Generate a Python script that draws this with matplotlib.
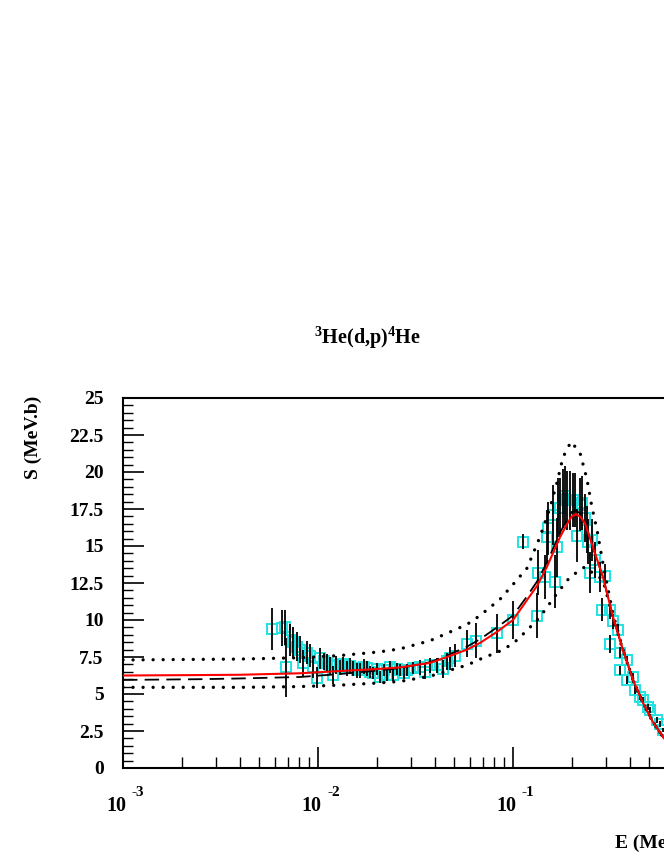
import matplotlib
matplotlib.use("Agg")
import matplotlib.pyplot as plt
import matplotlib.transforms as mtransforms
from matplotlib.ticker import MultipleLocator, FuncFormatter, LogLocator, NullFormatter
import numpy as np

plt.rcParams['font.family'] = ['Liberation Serif', 'DejaVu Serif']
plt.rcParams['font.weight'] = 'bold'
plt.rcParams['mathtext.fontset'] = 'custom'
plt.rcParams['mathtext.rm'] = 'Liberation Serif:bold'
plt.rcParams['mathtext.default'] = 'rm'

# measured S-factor points (E in MeV, S in MeV.b)
data_e = [5.81e-3, 6.54e-3, 6.77e-3, 6.85e-3, 7.18e-3, 7.44e-3, 7.80e-3, 8.09e-3,
          8.38e-3, 8.78e-3, 9.10e-3, 9.43e-3, 9.88e-3, 1.024e-2, 1.073e-2, 1.112e-2,
          1.152e-2, 1.194e-2, 1.237e-2, 1.297e-2, 1.344e-2, 1.408e-2, 1.459e-2, 1.512e-2,
          1.585e-2, 1.642e-2, 1.722e-2, 1.784e-2, 1.848e-2, 1.915e-2, 2.007e-2, 2.079e-2,
          2.180e-2, 2.259e-2, 2.340e-2, 2.424e-2, 2.541e-2, 2.634e-2, 2.761e-2, 2.860e-2,
          3.070e-2, 3.336e-2, 3.539e-2, 3.753e-2, 4.076e-2, 4.375e-2, 4.586e-2, 4.752e-2,
          5.041e-2, 5.809e-2, 6.460e-2, 8.279e-2, 0.1000, 0.1125, 0.1328, 0.1344,
          0.1460, 0.1494, 0.1512, 0.1604, 0.1642, 0.1682, 0.1702, 0.1742, 0.1805, 0.1848,
          0.1892, 0.1960, 0.2031, 0.2079, 0.2129, 0.2206, 0.2259, 0.2340, 0.2396, 0.2424,
          0.2482, 0.2541, 0.2634, 0.2794, 0.2860, 0.2963, 0.3144, 0.3144, 0.3257, 0.3455,
          0.3539, 0.3539, 0.3842, 0.3842, 0.4125, 0.4224, 0.4480, 0.4642, 0.4924, 0.5041,
          0.5476, 0.5675, 0.5878]
data_s = [9.4, 9.45, 9.5, 6.8, 8.65, 8.5, 8.2, 8.0,
          7.1, 7.8, 7.6, 6.8, 6.1, 7.4, 7.2, 7.1,
          6.9, 6.3, 6.95, 6.8, 7.0, 6.75, 6.9, 6.75,
          6.6, 6.6, 6.85, 6.75, 6.5, 6.4, 6.7, 6.15,
          6.6, 6.3, 6.8, 6.3, 6.7, 6.6, 6.4, 6.6,
          6.75, 6.8, 6.5, 6.95, 6.95, 6.7, 7.2, 7.4,
          7.6, 8.4, 8.6, 9.1, 10.0, 15.3, 10.3, 13.2,
          12.9, 15.6, 16.2, 17.1, 12.6, 14.9, 17.6, 17.6, 18.2, 18.4,
          18.1, 18.1, 18.1, 18.1, 15.7, 17.8, 17.9, 16.9, 16.1, 15.3,
          13.2, 15.4, 14.05, 12.9, 10.7, 13.0, 10.7, 8.4, 9.9, 9.3,
          7.8, 6.6, 7.3, 5.95, 6.15, 5.3, 4.8, 4.6, 4.1, 3.9,
          3.25, 3.0, 2.55]
data_err = [1.4, 1.2, 1.2, 2.0, 1.1, 1.0, 1.0, 0.9,
            0.9, 0.8, 0.8, 0.7, 0.7, 0.7, 0.6, 0.6,
            0.6, 0.6, 0.6, 0.5, 0.5, 0.5, 0.5, 0.5,
            0.5, 0.5, 0.5, 0.5, 0.4, 0.4, 0.4, 0.4,
            0.4, 0.4, 0.4, 0.4, 0.4, 0.4, 0.4, 0.4,
            0.4, 0.5, 0.5, 0.5, 0.5, 0.6, 0.6, 0.8,
            0.8, 0.9, 1.2, 1.3, 1.3, 0.5, 1.5, 1.5,
            1.5, 1.8, 1.8, 2.0, 1.8, 2.0, 2.0, 2.0, 2.0, 2.0,
            2.0, 2.0, 1.8, 1.8, 1.8, 1.8, 1.8, 1.6, 1.6, 1.5,
            1.4, 1.4, 1.2, 1.0, 0.8, 0.8, 0.6, 0.6, 0.5, 0.4,
            0.4, 0.3, 0.3, 0.3, 0.3, 0.3, 0.2, 0.2, 0.2, 0.2,
            0.2, 0.2, 0.15]

# fitted curve (red) and its alternative (dashed)
fit_e = [1e-3, 2.48e-3, 3.98e-3, 8.09e-3, 1.297e-2, 2.079e-2, 2.634e-2, 3.753e-2,
         4.586e-2, 5.809e-2, 6.77e-2, 8.28e-2, 0.100, 0.118, 0.1328, 0.1494,
         0.1742, 0.1915, 0.2002, 0.2104, 0.2206, 0.2340, 0.2572, 0.2894,
         0.3257, 0.3665, 0.4125, 0.4642, 0.5224, 0.5949, 0.70, 0.85, 1.0]
fit_s = [6.25, 6.28, 6.3, 6.4, 6.55, 6.7, 6.8, 7.1,
         7.5, 8.0, 8.45, 9.2, 10.0, 11.35, 12.3, 13.6,
         15.6, 16.6, 17.0, 17.15, 17.0, 16.55, 14.9, 12.9,
         10.2, 7.97, 5.95, 4.4, 3.1, 2.0, 1.3, 0.8, 0.5]
dash_s = [5.95, 6.0, 6.05, 6.15, 6.35, 6.6, 6.75, 7.15,
          7.6, 8.2, 8.7, 9.5, 10.3, 11.6, 12.6, 13.9,
          15.9, 16.9, 17.3, 17.4, 17.2, 16.6, 14.9, 12.9,
          10.2, 7.97, 5.95, 4.4, 3.1, 2.0, 1.3, 0.8, 0.5]

# upper / lower limits (dotted)
up_e = [1e-3, 3.98e-3, 8.09e-3, 1.297e-2, 2.079e-2, 2.634e-2, 3.753e-2, 4.586e-2,
        5.809e-2, 6.77e-2, 8.575e-2, 0.100, 0.118, 0.1374, 0.1549, 0.1682,
        0.1805, 0.1984, 0.2206, 0.2396, 0.2541, 0.2696, 0.2894, 0.3257,
        0.3665, 0.4125, 0.4642, 0.5224, 0.5949, 0.70, 1.0]
up_s = [7.3, 7.36, 7.45, 7.6, 7.85, 8.05, 8.6, 9.1,
        9.7, 10.3, 11.4, 12.4, 13.5, 15.6, 17.6, 19.3,
        21.0, 22.05, 21.3, 19.5, 17.6, 16.1, 13.8, 10.4,
        8.0, 5.97, 4.42, 3.12, 2.0, 1.3, 0.5]
low_e = [1e-3, 3.98e-3, 8.09e-3, 1.297e-2, 2.079e-2, 2.634e-2, 3.753e-2, 4.586e-2,
         5.809e-2, 6.77e-2, 8.575e-2, 0.100, 0.118, 0.1374, 0.1682, 0.1960,
         0.2340, 0.2482, 0.2696, 0.2894, 0.3257, 0.3665, 0.4125, 0.4642,
         0.5224, 0.5949, 0.70, 1.0]
low_s = [5.45, 5.45, 5.5, 5.6, 5.75, 5.85, 6.2, 6.55,
         6.95, 7.35, 7.9, 8.4, 9.3, 10.2, 11.8, 12.9,
         13.6, 13.3, 13.0, 12.7, 10.15, 7.95, 5.93, 4.38,
         3.08, 2.0, 1.3, 0.5]

# only these decade labels fall inside the visible picture
decades = [1e-3, 1e-2, 1e-1]
exponents = ['-3', '-2', '-1']

fig = plt.figure(figsize=(6.64, 8.6), dpi=100)
ax = fig.add_axes([123 / 664, 92 / 860, 585 / 664, 370 / 860])

ax.plot(data_e, data_s, 's', ms=7.8, mfc='none', mec='#22e2e2', mew=1.4, zorder=2)
ax.errorbar(data_e, data_s, yerr=data_err, fmt='none', ecolor='black',
            elinewidth=1.3, capsize=0, zorder=3)
dot = (0, (0.01, 3.0))
ax.plot(up_e, up_s, color='black', lw=2.4, ls=dot, dash_capstyle='round', zorder=4)
ax.plot(low_e, low_s, color='black', lw=2.4, ls=dot, dash_capstyle='round', zorder=4)
ax.plot(fit_e, dash_s, color='black', lw=1.3, ls=(0, (8, 4)), zorder=4)
ax.plot(fit_e, fit_s, color='red', lw=1.5, zorder=5)

ax.set_xscale('log')
ax.set_xlim(1e-3, 1.0)
ax.set_ylim(0, 25)

ax.yaxis.set_major_locator(MultipleLocator(2.5))
ax.yaxis.set_minor_locator(MultipleLocator(0.5))
ax.yaxis.set_major_formatter(FuncFormatter(lambda v, p: '%g' % v))
ax.xaxis.set_major_locator(LogLocator(base=10))
ax.xaxis.set_minor_locator(LogLocator(base=10, subs=np.arange(2, 10)))
ax.xaxis.set_minor_formatter(NullFormatter())

ax.tick_params(axis='y', which='major', direction='in', length=15, width=1.2,
               labelsize=14, pad=14, right=False)
ax.tick_params(axis='y', which='minor', direction='in', length=7, width=1.0, right=False)
ax.tick_params(axis='x', which='major', direction='in', length=15, width=1.2,
               labelbottom=False, top=False)
ax.tick_params(axis='x', which='minor', direction='in', length=8, width=1.0, top=False)
for lab in ax.get_yticklabels():
    lab.set_fontweight('bold')
for sp in ax.spines.values():
    sp.set_linewidth(1.5)

# decade labels written as "10" plus a raised exponent
base_tr = ax.get_xaxis_transform()
for d, ex in zip(decades, exponents):
    t1 = mtransforms.offset_copy(base_tr, fig=fig, x=-7, y=-38, units='dots')
    t2 = mtransforms.offset_copy(base_tr, fig=fig, x=9, y=-24, units='dots')
    ax.text(d, 0, '10', transform=t1, ha='center', va='center',
            fontsize=14.5, fontweight='bold', clip_on=False)
    ax.text(d, 0, ex, transform=t2, ha='left', va='center',
            fontsize=11, fontweight='bold', clip_on=False)

# axis title runs past the right edge, as in the source picture
ax.set_xlabel('E (MeV)', fontsize=14, fontweight='bold', loc='right')
ax.xaxis.set_label_coords((687 - 123) / 585, -67 / 370)
ax.xaxis.label.set_horizontalalignment('right')

fig.text(33 / 664, 1 - 396 / 860, 'S (MeV.b)', rotation=90, ha='center', va='top',
         fontsize=14, fontweight='bold')
fig.text(367 / 664, 1 - 338 / 860, r'$^{3}$He(d,p)$^{4}$He', ha='center', va='center',
         fontsize=14.5, fontweight='bold')

fig.savefig('out.png', dpi=100)
